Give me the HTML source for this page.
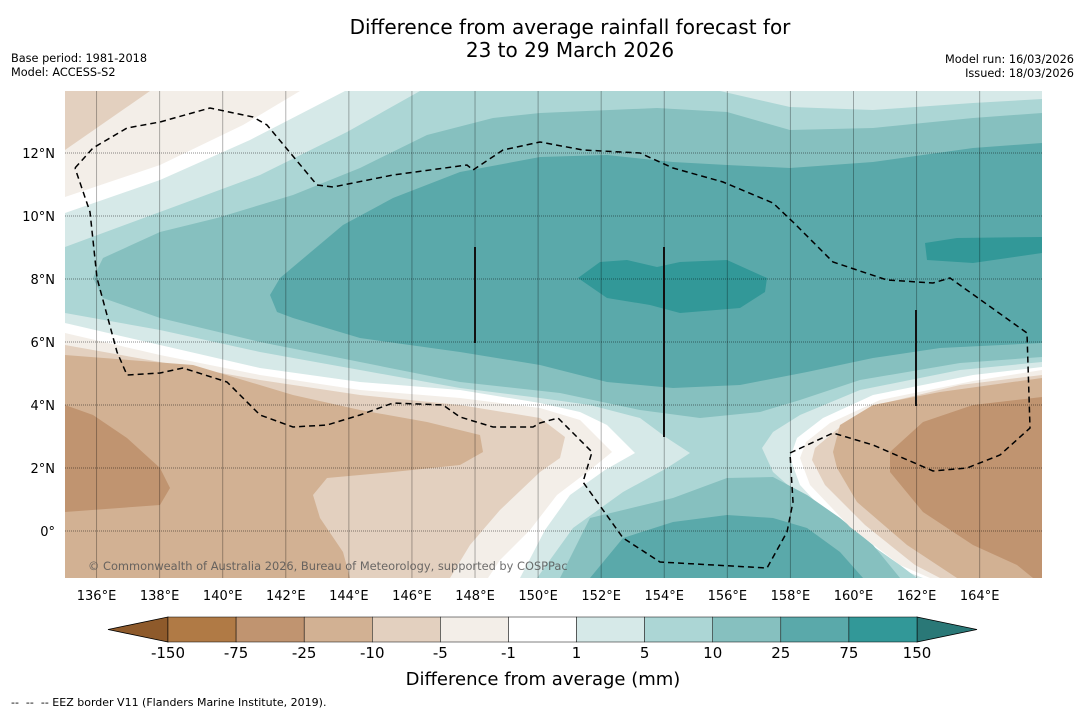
<!DOCTYPE html>
<html><head><meta charset="utf-8"><style>
body{margin:0;background:#fff;width:1085px;height:713px;overflow:hidden;font-family:"DejaVu Sans","Liberation Sans",sans-serif;}
svg{position:absolute;left:0;top:0}
</style></head><body>
<svg id="s" width="1085" height="713" xmlns="http://www.w3.org/2000/svg">
<text x="570" y="34" font-size="20" text-anchor="middle">Difference from average rainfall forecast for</text>
<text x="570" y="57" font-size="20" text-anchor="middle">23 to 29 March 2026</text>
<text x="11" y="62" font-size="11.3">Base period: 1981-2018</text>
<text x="11" y="76" font-size="11.3">Model: ACCESS-S2</text>
<text x="1074" y="63" font-size="11.3" text-anchor="end">Model run: 16/03/2026</text>
<text x="1074" y="77" font-size="11.3" text-anchor="end">Issued: 18/03/2026</text>
<g id="map"></g>
<g id="cb"></g>
<text x="543" y="685" font-size="18" text-anchor="middle">Difference from average (mm)</text>
<text x="11" y="706" font-size="11" xml:space="preserve">--  --  -- EEZ border V11 (Flanders Marine Institute, 2019).</text>
</svg>
<script>
const levels=["-150","-75","-25","-10","-5","-1","1","5","10","25","75","150"];
const colors=["#b07a45","#c09470","#d2b193","#e3d0bf","#f3eee8","#ffffff","#d6e9e8","#acd6d5","#86c0bf","#5aa9aa","#329898"];
const extendColors=["#8e5a2b","#2a7877"];
const lonTicks=[136,138,140,142,144,146,148,150,152,154,156,158,160,162,164];
const latTicks=[12,10,8,6,4,2,0];
const lon2x=l=>65+(l-135)*31.54;
const lat2y=l=>531-l*31.5;
const NS="http://www.w3.org/2000/svg";
const map=document.getElementById('map');
function mk(tag,at,parent){const e=document.createElementNS(NS,tag);for(const k in at)e.setAttribute(k,at[k]);(parent||map).appendChild(e);return e;}
function poly(pts,fill,name){const e=mk('polygon',{points:pts.map(p=>p.join(',')).join(' '),fill:fill});

}
const shapes=[
["pos1",6,[[65,213],[160,180],[250,140],[345,91],[1042,91],[1042,367],[973,375],[873,395],[823,418],[797,438],[790,458],[800,485],[840,528],[890,565],[923,578],[520,578],[545,530],[570,495],[605,470],[635,453],[607,425],[580,412],[540,403],[460,390],[360,382],[260,368],[160,345],[65,323]]],
["pos5",7,[[65,247],[160,212],[260,175],[347,132],[420,91],[720,91],[790,107],[873,110],[973,103],[1042,99],[1042,362],[960,370],[860,390],[800,415],[773,432],[762,448],[773,472],[807,502],[857,535],[900,565],[917,578],[537,578],[573,528],[623,492],[667,468],[690,453],[667,438],[640,418],[590,405],[540,398],[460,388],[360,370],[260,352],[160,330],[65,313]]],
["pos10-north",8,[[93,278],[103,258],[160,232],[217,218],[293,195],[360,168],[427,135],[493,118],[540,113],[657,108],[727,112],[790,130],[873,128],[973,118],[1042,113],[1042,357],[960,363],[860,380],[800,400],[760,412],[700,418],[640,410],[560,393],[460,382],[360,362],[260,342],[160,318],[103,298]]],
["pos10-south",8,[[560,578],[590,518],[673,498],[727,478],[773,477],[807,495],[840,518],[873,545],[900,578]]],
["pos25-north",9,[[270,295],[280,278],[343,225],[393,198],[460,172],[540,157],[607,155],[673,162],[727,165],[790,168],[873,162],[973,148],[1042,143],[1042,343],[940,348],[873,358],[807,372],[740,385],[673,388],[607,382],[540,365],[460,352],[360,338],[293,318],[277,312]]],
["pos25-south",9,[[590,578],[623,538],[673,522],[727,515],[773,518],[807,528],[840,552],[863,578]]],
["pos75-a",10,[[578,278],[600,262],[627,260],[657,267],[680,262],[727,260],[767,278],[765,292],[740,308],[680,313],[650,305],[607,298]]],
["pos75-b",10,[[925,243],[957,238],[1042,237],[1042,253],[973,263],[927,260]]],
["neg1-nw",4,[[65,91],[300,91],[243,125],[160,165],[65,197]]],
["neg5-nw",3,[[65,91],[150,91],[65,150]]],
["neg1-sw",4,[[65,333],[160,355],[260,375],[360,390],[460,398],[540,408],[580,420],[612,452],[590,470],[557,495],[530,530],[500,560],[488,578],[65,578]]],
["neg5-sw",3,[[65,345],[160,362],[260,380],[360,395],[460,405],[540,418],[565,437],[560,458],[540,472],[500,510],[470,545],[450,578],[65,578]]],
["neg10-sw",2,[[65,355],[193,365],[293,395],[360,410],[427,422],[480,435],[483,452],[460,465],[393,472],[327,478],[313,495],[320,518],[343,552],[350,578],[65,578]]],
["neg25-sw",1,[[65,405],[93,415],[127,438],[160,468],[170,488],[160,505],[65,512]]],
["neg1-se",4,[[1042,370],[973,381],[880,400],[830,423],[806,442],[800,458],[810,485],[850,527],[900,565],[930,578],[1042,578]]],
["neg5-se",3,[[1042,375],[960,385],[880,404],[840,427],[815,448],[812,460],[825,485],[865,525],[915,565],[940,578],[1042,578]]],
["neg10-se",2,[[1042,378],[940,392],[873,405],[840,425],[833,452],[837,468],[857,502],[907,545],[957,578],[1042,578]]],
["neg25-se",1,[[1042,397],[973,405],[923,422],[890,452],[890,472],[923,512],[973,545],[1017,565],[1033,578],[1042,578]]]
];
const eez=[[75,168],[93,148],[127,128],[160,122],[210,108],[253,117],[267,125],[317,185],[333,187],[393,175],[467,165],[473,170],[503,150],[540,142],[583,150],[640,153],[673,168],[723,182],[773,203],[793,222],[833,262],[887,280],[933,283],[950,278],[1027,333],[1030,428],[1000,455],[967,468],[933,471],[873,445],[833,433],[790,453],[793,502],[787,532],[767,568],[660,562],[623,538],[583,482],[592,452],[558,418],[540,423],[533,427],[493,427],[460,417],[443,405],[393,403],[360,415],[327,425],[293,427],[260,415],[227,382],[183,368],[160,373],[127,375],[117,352],[97,278],[90,212],[75,168]];
mk('rect',{x:65,y:91,width:977,height:487,fill:'#fff'});
shapes.forEach(s=>poly(s[2],colors[s[1]],'contour-'+s[0]));
lonTicks.forEach(l=>{const x=lon2x(l);const e=mk('line',{x1:x,x2:x,y1:91,y2:578,stroke:'rgba(0,0,0,0.3)','stroke-width':1});


const t=mk('text',{x:x,y:600,'font-size':13,'text-anchor':'middle'});t.textContent=l+'°E';

});
latTicks.forEach(l=>{const y=lat2y(l);const e=mk('line',{x1:65,x2:1042,y1:y,y2:y,stroke:'rgba(0,0,0,0.45)','stroke-width':1,'stroke-dasharray':'1,1'});


const t=mk('text',{x:55,y:y+5,'font-size':13,'text-anchor':'end'});t.textContent=l===0?'0°':l+'°N';

});
const ez=mk('polyline',{points:eez.map(p=>p.join(',')).join(' '),fill:'none',stroke:'#000','stroke-width':1.5,'stroke-dasharray':'6,4'});


[[475,247,343],[664,247,437],[916,310,406]].forEach((v,i)=>{const e=mk('line',{x1:v[0],x2:v[0],y1:v[1],y2:v[2],stroke:'#111','stroke-width':2});

});
const cp=mk('text',{x:88,y:570,'font-size':11.4,fill:'#555','fill-opacity':0.85});cp.textContent='© Commonwealth of Australia 2026, Bureau of Meteorology, supported by COSPPac';


const cb=document.getElementById('cb');
const x0=168,x1=917,cy=617,ch=25,w=(x1-x0)/colors.length;
let e=mk('polygon',{points:`${x0},${cy} 108,${cy+ch/2} ${x0},${cy+ch}`,fill:extendColors[0],stroke:'#000','stroke-width':0.8},cb);


e=mk('polygon',{points:`${x1},${cy} 977,${cy+ch/2} ${x1},${cy+ch}`,fill:extendColors[1],stroke:'#000','stroke-width':0.8},cb);


colors.forEach((c,i)=>{const r=mk('rect',{x:x0+i*w,y:cy,width:w,height:ch,fill:c,stroke:'#000','stroke-width':0.5},cb);

});
levels.forEach((l,i)=>{const t=mk('text',{x:x0+i*w,y:658,'font-size':15,'text-anchor':'middle'},cb);t.textContent=l;

});
</script>
</body></html>
